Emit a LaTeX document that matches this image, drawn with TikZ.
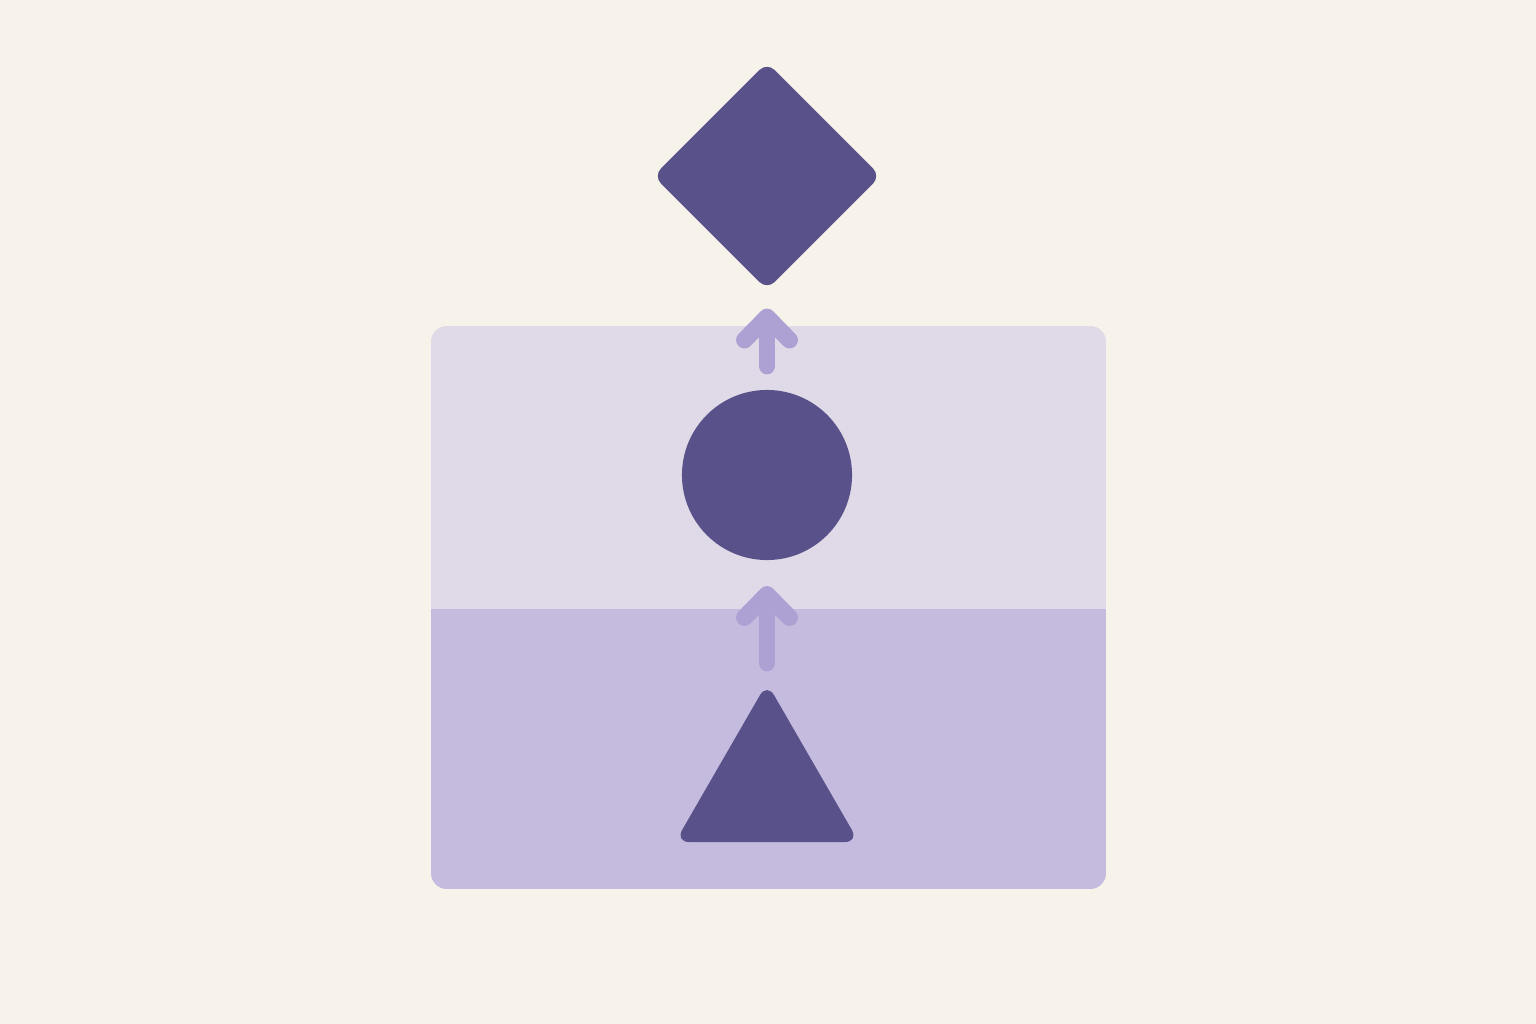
\documentclass[tikz,border=0pt]{standalone}
\usetikzlibrary{shapes.geometric,arrows.meta}

\definecolor{cream}{HTML}{F7F2EA}
\definecolor{panelhigh}{HTML}{E0D9E7}
\definecolor{panellow}{HTML}{C5BBDE}
\definecolor{ink}{HTML}{59518A}
\definecolor{flowc}{HTML}{ADA1D3}

\begin{document}
\begin{tikzpicture}[x=0.01cm, y=-0.01cm]
        \tikzset{solid shape/.style={fill=ink, draw=none, inner sep=0pt, outer sep=0pt},
                 flow/.style={draw=flowc, line width=4.8pt, line cap=round,
                              -{Straight Barb[length=0.23cm, width=0.45cm, round]}}}
        % background and panel
        \fill [cream] (0,0) rectangle (1536,1024);
        \begin{scope}
            \clip [rounded corners=4.5pt] (431,326) rectangle (1106,889);
            \fill [panelhigh] (431,326) rectangle (1106,609);
            \fill [panellow]  (431,609) rectangle (1106,889);
        \end{scope}
        % shapes
        \node [solid shape, diamond, minimum size=2.27cm, rounded corners=3pt] (goal) at (767,176){};
        \node [solid shape, circle, minimum size=1.7cm]                        (mid)  at (767,475){};
        \node [solid shape, regular polygon, regular polygon sides=3,
               minimum size=2.12cm, rounded corners=4pt]                       (base) at (767,789){};
        % arrows
        \draw [flow, shorten <=0.24cm, shorten >=0.19cm] (mid)  -- (goal);
        \draw [flow, shorten <=0.2cm,  shorten >=0.26cm] (base) -- (mid);
    \end{tikzpicture}
\end{document}
